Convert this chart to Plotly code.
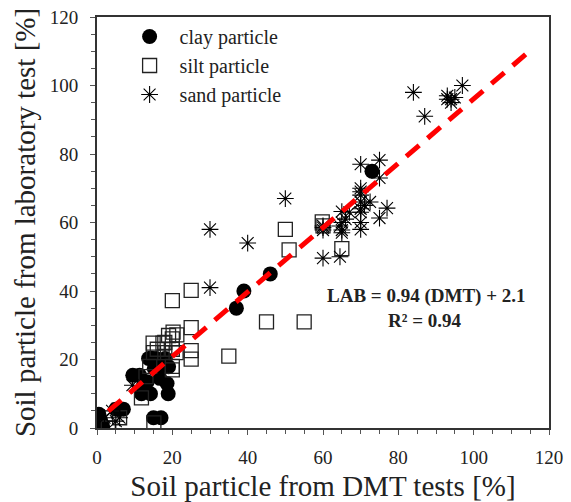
import numpy as np
import plotly.graph_objects as go

# ---- data ----
clay_x = [0, 0, 0.5, 1, 1.5, 5, 7, 15, 17, 9.5, 11.3, 12.3, 11.8, 14.2, 13.7, 15.7, 15.2, 13.3, 16.7, 18.1, 18.6, 18.9, 19, 14.5, 16.7, 37, 39, 46, 73]
clay_y = [0, 1.5, 4, 2, 0.5, 5.5, 5.5, 3, 3, 15.4, 15.4, 12.5, 10, 10, 20.3, 20.3, 17.4, 13.5, 14.5, 20.3, 13, 10, 17.9, 20.4, 18, 35, 40, 45, 75]

silt_x = [3, 6, 11.8, 15.1, 13, 14.9, 15, 16, 17.5, 18, 18, 19, 20.2, 20, 20, 21.2, 21, 20, 20, 14, 20, 25, 25, 25, 25, 35, 45, 55, 50, 51, 59.8, 60, 65]
silt_y = [0, 3, 8.8, 1.5, 15, 24.8, 22, 23, 24.8, 22, 25, 27, 28, 26, 23, 27.2, 22, 17, 18, 18, 37.2, 40.2, 29.3, 22.6, 20.1, 21, 31, 31, 58, 52, 60.2, 59, 52.4]

sand_x = [2, 4, 5, 6, 9.4, 30, 30, 40, 50, 60, 60, 60, 60, 64.5, 65, 65, 65, 65, 64.5, 66, 67, 70, 70, 70, 70, 70, 70, 70, 70, 70, 71, 72.5, 75, 75, 75, 77, 84, 87, 93, 93, 94, 94, 95, 97]
sand_y = [3, 5, 2, 3, 12.5, 58, 41, 54, 67, 57.8, 58.5, 59, 49.6, 59, 63.2, 60, 57.8, 57, 50, 61, 63, 77, 70, 69, 68, 66, 64, 63, 60, 58, 65, 66, 78.2, 73, 61.3, 64.2, 98, 91, 97, 96, 95, 96, 96.5, 100]

fit_slope = 0.94
fit_intercept = 2.1
fit_x = [3, 115]

equation_text = "LAB = 0.94 (DMT) + 2.1"
r2_text = "R² = 0.94"

FONT = "Liberation Serif"

fig = go.Figure()

fig.add_trace(go.Scatter(
    x=clay_x, y=clay_y, mode="markers", name="clay particle",
    marker=dict(symbol="circle", size=15, color="black"),
))
fig.add_trace(go.Scatter(
    x=silt_x, y=silt_y, mode="markers", name="silt particle",
    marker=dict(symbol="square-open", size=14, color="#222222", line=dict(width=1.3)),
))
fig.add_trace(go.Scatter(
    x=sand_x, y=sand_y, mode="markers", name="sand particle",
    marker=dict(symbol="asterisk-open", size=14, color="black", line=dict(width=1.1, color="black")),
))

fx = np.array(fit_x, dtype=float)
fig.add_trace(go.Scatter(
    x=fx, y=fit_slope * fx + fit_intercept, mode="lines", showlegend=False,
    line=dict(color="#ff0000", width=5, dash="17px,11px"),
))

fig.add_annotation(x=87.3, y=38.5, xref="x", yref="y", text="<b>" + equation_text + "</b>",
                   showarrow=False, font=dict(family=FONT, size=19, color="#222"))
fig.add_annotation(x=87, y=31.5, xref="x", yref="y", text="<b>" + r2_text + "</b>",
                   showarrow=False, font=dict(family=FONT, size=19, color="#222"))

axis_common = dict(
    range=[0, 120], dtick=20, showline=True, linecolor="#333", linewidth=2,
    mirror=True, ticks="outside", ticklen=5, tickcolor="#555", tickwidth=1,
    showgrid=False, zeroline=False, automargin=False,
    minor=dict(dtick=5, ticks="outside", ticklen=4, tickcolor="#555"),
    tickfont=dict(family=FONT, size=19, color="#222"),
)

fig.update_xaxes(**axis_common, ticklabelstandoff=6,
                 title=dict(text="Soil particle from DMT tests [%]",
                            font=dict(family=FONT, size=29, color="#222"), standoff=11))
fig.update_yaxes(**axis_common, ticklabelstandoff=8,
                 title=dict(text="Soil particle from laboratory test [%]",
                            font=dict(family=FONT, size=29, color="#222"), standoff=6))

fig.update_layout(
    width=571, height=502,
    margin=dict(l=97, r=22, t=17, b=74),
    plot_bgcolor="white", paper_bgcolor="white",
    legend=dict(x=0.05, y=1.0, xanchor="left", yanchor="top",
                font=dict(family=FONT, size=20, color="#222"),
                bgcolor="rgba(0,0,0,0)", itemwidth=50),
)

fig.write_html("out.html", config={"displayModeBar": False},
               post_script="document.body.style.margin='0';")
